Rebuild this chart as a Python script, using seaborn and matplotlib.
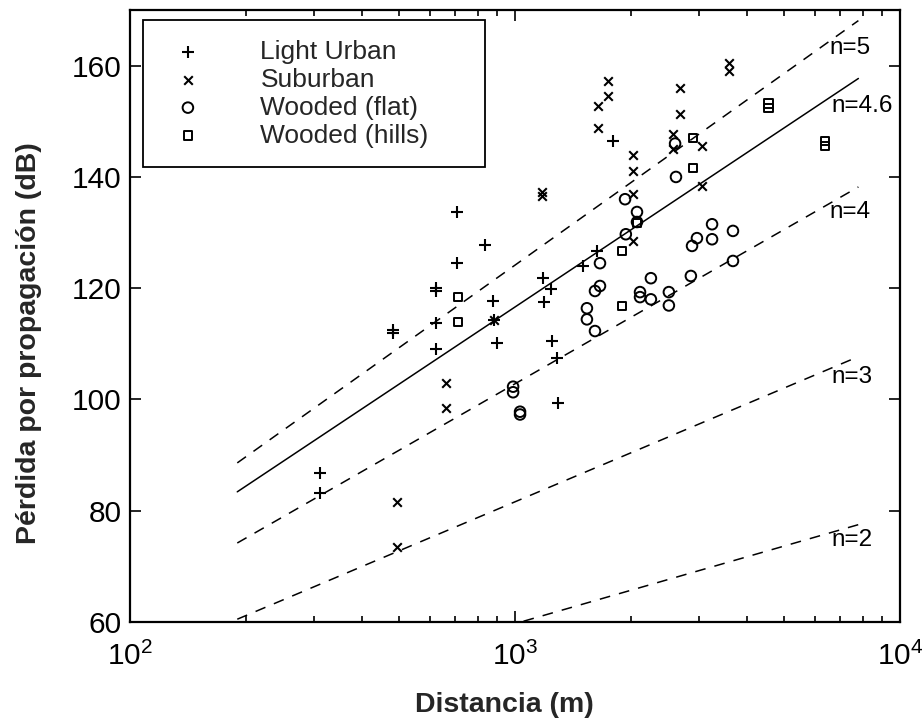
import numpy as np
import pandas as pd
import seaborn as sns
import matplotlib
matplotlib.use("Agg")
import matplotlib.pyplot as plt

# --- data ------------------------------------------------------------------
urban_d = [312, 312, 482, 482, 624, 624, 624, 624, 706, 836, 706, 877, 882,
           898, 1183, 1241, 1190, 1503, 1634, 1247, 1285, 1294, 1799]
urban_db = [86.8, 83.2, 112.4, 111.9, 120.0, 119.5, 113.7, 109.0, 133.7, 127.7,
            124.5, 117.7, 114.2, 110.1, 121.8, 119.8, 117.5, 124.0, 126.7, 110.6,
            107.4, 99.3, 146.5]

suburban_d = [494, 494, 662, 662, 1175, 1175, 1644, 1745, 1745, 1644, 2024, 2024,
              2024, 2024, 2683, 2683, 2575, 2575, 3062, 3062, 3597, 3597, 882]
suburban_db = [81.6, 73.5, 102.9, 98.4, 137.3, 136.6, 152.8, 157.3, 154.6, 148.8,
               144.0, 141.1, 136.9, 128.5, 156.0, 151.4, 147.7, 145.0, 145.6, 138.4,
               160.4, 159.1, 114.2]

flat_d = [989, 989, 1031, 1031, 1663, 1663, 1614, 1538, 1538, 1614, 1941, 1932,
          2075, 2075, 2113, 2113, 2255, 2255, 2511, 2511, 2864, 2884, 2970, 3251,
          3251, 3684, 3684, 2606, 2620]
flat_db = [102.3, 101.3, 97.8, 97.3, 124.5, 120.4, 119.5, 116.4, 114.4, 112.3,
           129.7, 136.0, 133.7, 131.9, 119.3, 118.4, 121.8, 118.0, 119.3, 116.9,
           122.2, 127.6, 129.0, 131.5, 128.8, 130.3, 124.9, 146.0, 140.0]

hills_d = [711, 711, 1897, 1897, 2075, 2898, 2898, 4558, 4558, 6385, 6385]
hills_db = [118.4, 113.9, 126.7, 116.8, 131.7, 147.0, 141.6, 153.2, 152.4,
            146.5, 145.6]

# reference lines: endpoints (d = 190 m and d = 7800 m)
line_n = ["n=2", "n=3", "n=4", "n=4.6", "n=5"]
line_d = [190, 7800]
line_start_db = [45.3, 60.5, 74.2, 83.4, 88.6]
line_end_db = [77.5, 107.7, 138.2, 157.7, 168.1]

# ---------------------------------------------------------------------------
sns.set_theme(style="ticks")
plt.rcParams["font.family"] = ["Liberation Sans", "DejaVu Sans"]
plt.rcParams["mathtext.fontset"] = "custom"
plt.rcParams["mathtext.rm"] = "Liberation Sans"
plt.rcParams["mathtext.it"] = "Liberation Sans:italic"
plt.rcParams["mathtext.bf"] = "Liberation Sans:bold"

fig = plt.figure(figsize=(9.23, 7.18), dpi=100)
ax = fig.add_axes([0.1408, 0.1337, 0.8342, 0.8523])

lines = pd.DataFrame({
    "d": line_d * len(line_n),
    "db": [v for s, e in zip(line_start_db, line_end_db) for v in (s, e)],
    "n": [n for n in line_n for _ in range(2)],
})
for n in line_n:
    sub = lines[lines["n"] == n]
    sns.lineplot(data=sub, x="d", y="db", ax=ax, color="black",
                 linewidth=1.1, linestyle="-" if n == "n=4.6" else (0, (7, 6)),
                 legend=False, zorder=2)

groups = [
    ("Light Urban", urban_d, urban_db, "+", 70),
    ("Suburban", suburban_d, suburban_db, "x", 38),
    ("Wooded (flat)", flat_d, flat_db, "o", 58),
    ("Wooded (hills)", hills_d, hills_db, "s", 36),
]
for label, d, db, m, s in groups:
    if m in ("+", "x"):
        sns.scatterplot(x=d, y=db, ax=ax, marker=m, s=s, color="black",
                        linewidth=1.5, label=label, zorder=3)
    else:
        sns.scatterplot(x=d, y=db, ax=ax, marker=m, s=s, facecolor="none",
                        edgecolor="black", linewidth=1.4, label=label, zorder=3)

ax.set_xscale("log")
ax.set_xlim(100, 10000)
ax.set_ylim(60, 170)
ax.set_yticks([60, 80, 100, 120, 140, 160])

# line labels
label_pos = {"n=5": (6550, 163.1), "n=4.6": (6620, 152.8), "n=4": (6550, 133.7),
             "n=3": (6620, 104.1), "n=2": (6650, 74.8)}
for n in line_n:
    x, y = label_pos[n]
    ax.text(x, y, n, fontsize=17.5, va="center", ha="left", color="black")

ax.tick_params(axis="both", which="both", direction="in", top=True, right=True,
               colors="black", labelsize=21.5, width=1.2)
ax.tick_params(axis="both", which="major", length=8)
ax.tick_params(axis="x", which="major", pad=14)
ax.tick_params(axis="y", which="major", pad=6)
ax.tick_params(axis="x", which="minor", length=4)
for sp in ax.spines.values():
    sp.set_color("black")
    sp.set_linewidth(1.6)

ax.set_xlabel("Distancia (m)", fontsize=20.5, fontweight="bold")
ax.set_ylabel("Pérdida por propagación (dB)", fontsize=20.5, fontweight="bold")
ax.xaxis.set_label_coords(0.486, -0.114)
ax.yaxis.set_label_coords(-0.114, 0.455)

leg = ax.legend(loc="upper left", bbox_to_anchor=(0.017, 0.743, 0.444, 0.241),
                mode="expand", fontsize=19, frameon=True, fancybox=False,
                framealpha=1, edgecolor="black", borderpad=0.75,
                labelspacing=0.15, handlelength=1.9, handletextpad=1.8,
                scatterpoints=1, borderaxespad=0)
leg.get_frame().set_linewidth(1.3)

fig.savefig("out.png", dpi=100, facecolor="white")
